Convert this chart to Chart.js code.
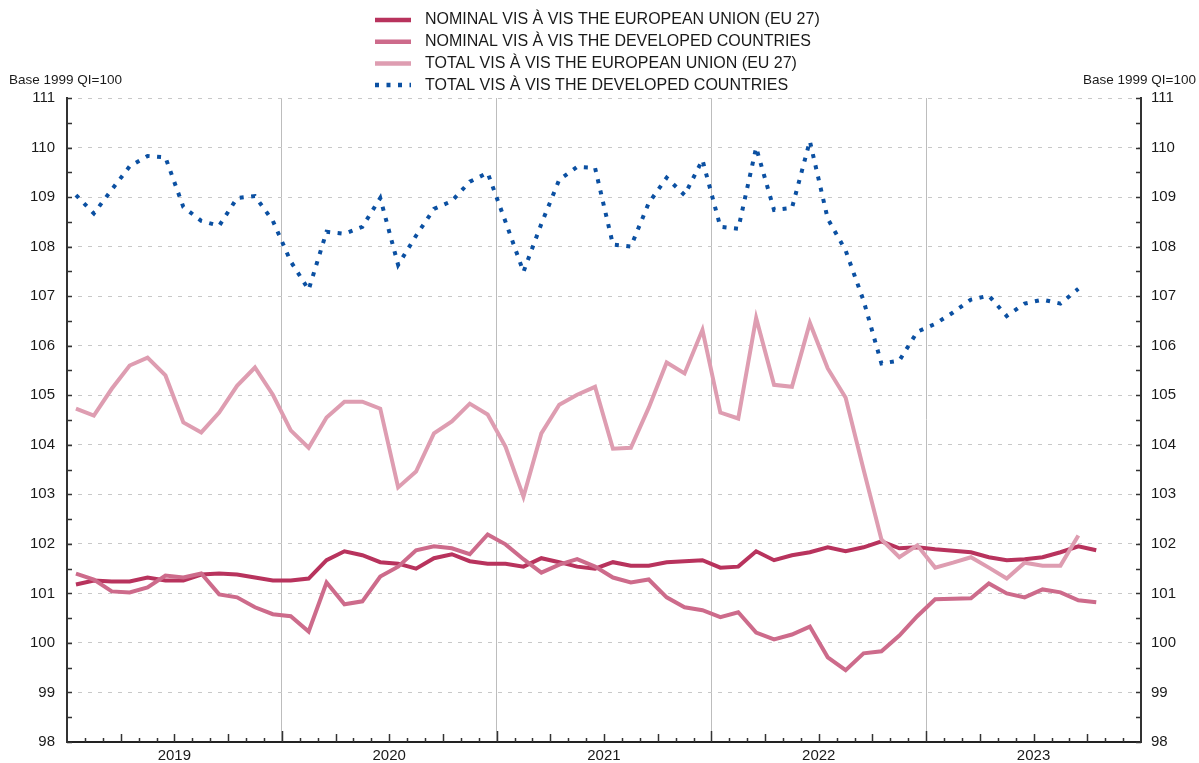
<!DOCTYPE html>
<html lang="en">

<head>
    <meta charset="UTF-8">
    <title>Real effective exchange rates</title>
    <script src="https://cdn.jsdelivr.net/npm/chart.js"></script>
    <style>
        html, body { margin: 0; padding: 0; background: #fff; }
        #box { width: 1199px; height: 763px; }
    </style>
</head>

<body>
    <div id="box">
        <canvas id="grafico"></canvas>
    </div>
</body>

</html>

<script>
    // categorias: anos e meses (jan 2019 - dez 2023)
    const anos = ['2019', '2020', '2021', '2022', '2023'];
    const meses = anos.flatMap(a => ['01', '02', '03', '04', '05', '06', '07', '08', '09', '10', '11', '12'].map(m => a + '-' + m));

    const nominalUE = [101.18, 101.26, 101.24, 101.24, 101.32, 101.26, 101.26, 101.38, 101.40, 101.38, 101.32, 101.26,
        101.26, 101.30, 101.67, 101.85, 101.77, 101.63, 101.60, 101.50, 101.71, 101.79, 101.65, 101.60,
        101.60, 101.54, 101.71, 101.63, 101.54, 101.50, 101.63, 101.56, 101.56, 101.63, 101.65, 101.67,
        101.52, 101.54, 101.85, 101.67, 101.77, 101.83, 101.93, 101.85, 101.93, 102.05, 101.91, 101.93,
        101.89, 101.86, 101.83, 101.73, 101.67, 101.69, 101.73, 101.83, 101.95, 101.87];

    const nominalDesenv = [101.40, 101.28, 101.04, 101.02, 101.12, 101.36, 101.32, 101.40, 100.98, 100.92, 100.72, 100.58,
        100.54, 100.23, 101.22, 100.78, 100.84, 101.34, 101.54, 101.87, 101.95, 101.91, 101.79, 102.19,
        101.99, 101.69, 101.42, 101.58, 101.69, 101.54, 101.32, 101.22, 101.28, 100.92, 100.72, 100.66,
        100.52, 100.62, 100.21, 100.07, 100.17, 100.33, 99.71, 99.45, 99.79, 99.83, 100.15, 100.54,
        100.88, 100.89, 100.90, 101.20, 101.00, 100.92, 101.08, 101.02, 100.86, 100.82];

    const totalUE = [104.73, 104.59, 105.13, 105.60, 105.76, 105.40, 104.45, 104.25, 104.65, 105.19, 105.56, 105.01,
        104.29, 103.94, 104.55, 104.87, 104.87, 104.73, 103.14, 103.46, 104.23, 104.47, 104.83, 104.61,
        103.96, 102.95, 104.23, 104.81, 105.01, 105.17, 103.92, 103.94, 104.75, 105.66, 105.44, 106.32,
        104.65, 104.53, 106.56, 105.21, 105.17, 106.46, 105.54, 104.95, 103.50, 102.09, 101.73, 101.97,
        101.52, 101.62, 101.73, 101.52, 101.30, 101.62, 101.56, 101.56, 102.17];

    const totalDesenv = [109.04, 108.67, 109.15, 109.62, 109.83, 109.80, 108.80, 108.52, 108.42, 108.98, 109.02, 108.52,
        107.70, 107.13, 108.30, 108.26, 108.40, 108.98, 107.63, 108.22, 108.76, 108.92, 109.31, 109.49,
        108.50, 107.49, 108.46, 109.35, 109.61, 109.59, 108.04, 108.00, 108.88, 109.39, 109.04, 109.75,
        108.40, 108.36, 110.00, 108.74, 108.78, 110.13, 108.56, 107.92, 106.91, 105.64, 105.70, 106.28,
        106.44, 106.67, 106.93, 107.01, 106.60, 106.85, 106.93, 106.85, 107.15];

    const eixoMin = 98;
    const eixoMax = 111;
    const fonte = '"Liberation Sans", Arial, Helvetica, sans-serif';

    // legenda e marcas internas dos eixos
    const extras = {
        id: 'extras',
        afterDraw(chart) {
            const ctx = chart.ctx;
            const area = chart.chartArea;
            const y = chart.scales.y;
            const x = chart.scales.x;
            ctx.save();

            // marcas do eixo y (para dentro)
            ctx.strokeStyle = '#333';
            ctx.lineWidth = 1.5;
            for (let v = eixoMin; v <= eixoMax; v += 0.5) {
                const py = Math.round(y.getPixelForValue(v)) + 0.5;
                ctx.beginPath();
                ctx.moveTo(area.left, py); ctx.lineTo(area.left + 5, py);
                ctx.moveTo(area.right, py); ctx.lineTo(area.right - 5, py);
                ctx.stroke();
            }

            // marcas do eixo x entre os meses
            const larg = (x.getPixelForValue(1) - x.getPixelForValue(0));
            for (let i = 1; i < meses.length; i++) {
                const px = Math.round(x.getPixelForValue(i) - larg / 2) + 0.5;
                let len = 4;
                if (i % 3 === 0) len = 8;
                if (i % 12 === 0) len = 11;
                ctx.beginPath();
                ctx.moveTo(px, area.bottom); ctx.lineTo(px, area.bottom - len);
                ctx.stroke();
            }

            // legenda
            ctx.font = '16px ' + fonte;
            ctx.textBaseline = 'middle';
            chart.data.datasets.forEach((ds, i) => {
                const ly = 20 + i * 21.7;
                ctx.strokeStyle = ds.borderColor;
                ctx.lineWidth = ds.borderWidth + 0.5;
                ctx.lineCap = 'butt';
                ctx.setLineDash(ds.borderDash || []);
                ctx.beginPath();
                ctx.moveTo(375, ly); ctx.lineTo(411, ly);
                ctx.stroke();
                ctx.setLineDash([]);
                ctx.fillStyle = '#1a1a1a';
                ctx.textAlign = 'left';
                ctx.fillText(ds.label, 425, ly);
            });

            // base
            ctx.font = '13.5px ' + fonte;
            ctx.fillStyle = '#1a1a1a';
            ctx.textAlign = 'left';
            ctx.fillText('Base 1999 QI=100', 9, 80);
            ctx.textAlign = 'right';
            ctx.fillText('Base 1999 QI=100', 1196, 80);
            ctx.restore();
        }
    };

    const dados = {
        labels: meses,
        datasets: [
            {
                label: 'NOMINAL VIS À VIS THE EUROPEAN UNION (EU 27)',
                data: nominalUE,
                borderColor: '#b8335d',
                borderWidth: 4,
                order: 4
            },
            {
                label: 'NOMINAL VIS À VIS THE DEVELOPED COUNTRIES',
                data: nominalDesenv,
                borderColor: '#cd6b8b',
                borderWidth: 4,
                order: 3
            },
            {
                label: 'TOTAL VIS À VIS THE EUROPEAN UNION (EU 27)',
                data: totalUE,
                borderColor: '#de9db1',
                borderWidth: 4,
                order: 2
            },
            {
                label: 'TOTAL VIS À VIS THE DEVELOPED COUNTRIES',
                data: totalDesenv,
                borderColor: '#0b50a2',
                borderWidth: 4,
                borderDash: [4, 7.5],
                borderCapStyle: 'butt',
                order: 1
            }
        ]
    };

    const config = {
        type: 'line',
        data: dados,
        plugins: [extras],
        options: {
            responsive: true,
            maintainAspectRatio: false,
            animation: false,
            layout: { padding: { top: 98, left: 0, right: 0, bottom: 0 } },
            elements: {
                point: { radius: 0 },
                line: { tension: 0, fill: false, borderJoinStyle: 'miter' }
            },
            plugins: {
                legend: { display: false },
                tooltip: { enabled: false }
            },
            scales: {
                x: {
                    offset: true,
                    afterFit: s => { s.height = 20; },
                    grid: {
                        offset: true,
                        drawTicks: false,
                        lineWidth: 1,
                        color: c => (c.index % 12 === 0 && c.index > 0 && c.index < meses.length) ? '#bdbdbd' : 'transparent'
                    },
                    border: { display: true, color: '#222', width: 2 },
                    ticks: {
                        autoSkip: false,
                        maxRotation: 0,
                        padding: 5,
                        labelOffset: -9,
                        color: '#1a1a1a',
                        font: { family: fonte, size: 15 },
                        callback: (v, i) => i % 12 === 6 ? meses[i].slice(0, 4) : ''
                    }
                },
                y: {
                    position: 'left',
                    min: eixoMin,
                    max: eixoMax,
                    afterFit: s => { s.width = 67; },
                    grid: { drawTicks: false, color: '#c8c8c8', lineWidth: 1 },
                    border: { display: true, color: '#333', width: 2, dash: [4, 6] },
                    ticks: {
                        stepSize: 1,
                        padding: 12,
                        color: '#1a1a1a',
                        font: { family: fonte, size: 15 }
                    }
                },
                y2: {
                    position: 'right',
                    min: eixoMin,
                    max: eixoMax,
                    afterFit: s => { s.width = 58; },
                    grid: { drawOnChartArea: false, drawTicks: false },
                    border: { display: true, color: '#333', width: 2 },
                    ticks: {
                        stepSize: 1,
                        padding: 10,
                        color: '#1a1a1a',
                        font: { family: fonte, size: 15 }
                    }
                }
            }
        }
    };

    let myChart = new Chart(document.getElementById('grafico'), config);
</script>
